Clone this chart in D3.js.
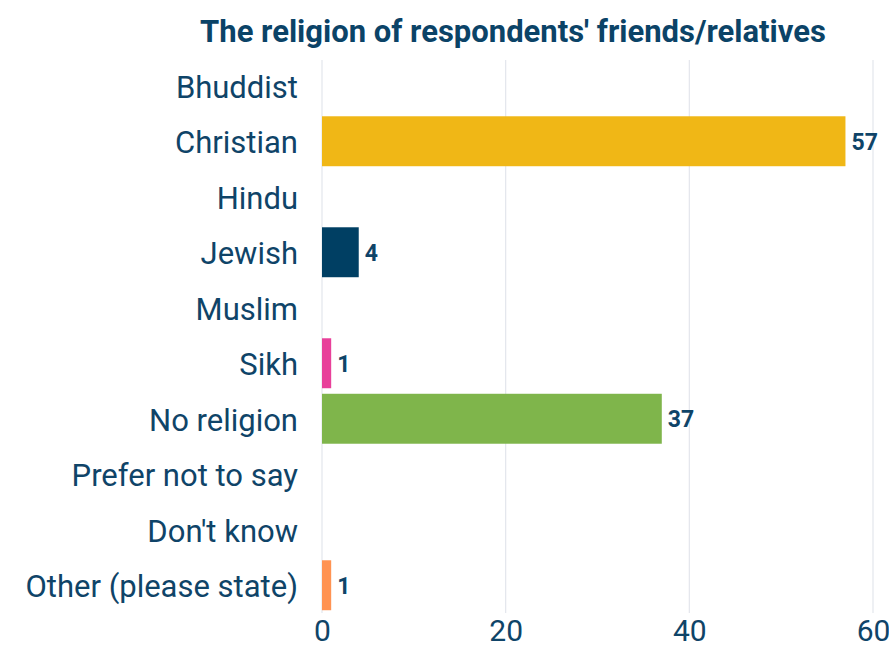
<!DOCTYPE html>
<html>
<head>
<meta charset="utf-8">
<script src="https://cdn.jsdelivr.net/npm/d3@7"></script>
<style>
  html, body { margin: 0; padding: 0; background: #fff; }
  svg text { font-family: "Century Gothic", Roboto, sans-serif; }
</style>
</head>
<body>
<svg id="chart" width="889" height="657"></svg>
<script>
const categories = ["Bhuddist", "Christian", "Hindu", "Jewish", "Muslim", "Sikh",
  "No religion", "Prefer not to say", "Don't know", "Other (please state)"];
const counts = [0, 57, 0, 4, 0, 1, 37, 0, 0, 1];
const barColors = ["#7a5195", "#F0B716", "#2f9e8f", "#003F63", "#5b8db8", "#E8409A",
  "#7FB54B", "#999999", "#cccccc", "#FF9352"];
const xTicks = [0, 20, 40, 60];
const title = "The religion of respondents' friends/relatives";

const svg = d3.select("#chart");

const x = d3.scaleLinear().domain([0, 60]).range([322, 873]);
const y = d3.scaleBand().domain(categories).range([58, 613]).paddingInner(0.1).paddingOuter(0.05);

const textColor = "#0f4468";

// vertical gridlines
svg.append("g").selectAll("line").data(xTicks).join("line")
  .attr("x1", d => x(d)).attr("x2", d => x(d))
  .attr("y1", 60).attr("y2", 613)
  .attr("stroke", "#e3e6ec").attr("stroke-width", 1.2);

// bars
const rows = categories.map((c, i) => ({ c, v: counts[i], color: barColors[i] }));
svg.append("g").selectAll("rect").data(rows.filter(d => d.v > 0)).join("rect")
  .attr("x", x(0))
  .attr("y", d => y(d.c))
  .attr("width", d => x(d.v) - x(0))
  .attr("height", y.bandwidth())
  .attr("fill", d => d.color);

// value labels
svg.append("g").selectAll("text").data(rows.filter(d => d.v > 0)).join("text")
  .attr("x", d => x(d.v) + 6)
  .attr("y", d => y(d.c) + y.bandwidth() / 2)
  .attr("dy", "0.36em")
  .attr("font-size", 23)
  .attr("font-weight", 700)
  .attr("fill", textColor)
  .text(d => d.v);

// category axis
const yAxis = d3.axisLeft(y).tickSize(0).tickPadding(0);
const gy = svg.append("g").attr("transform", `translate(${x(0) - 24},2)`).call(yAxis);
gy.select(".domain").remove();
gy.selectAll("text").attr("font-size", 31).attr("fill", textColor)
  .attr("font-family", "'Century Gothic', Roboto, sans-serif");

// value axis
const xAxis = d3.axisBottom(x).tickValues(xTicks).tickSize(0).tickPadding(0);
const gx = svg.append("g").attr("transform", `translate(0,620)`).call(xAxis);
gx.select(".domain").remove();
gx.selectAll("text").attr("font-size", 30).attr("fill", textColor)
  .attr("dy", "0.71em")
  .attr("font-family", "'Century Gothic', Roboto, sans-serif");

// title
svg.append("text")
  .attr("x", 513).attr("y", 42)
  .attr("text-anchor", "middle")
  .attr("font-size", 31)
  .attr("font-weight", 700)
  .attr("fill", "#0b4367")
  .text(title);
</script>
</body>
</html>
